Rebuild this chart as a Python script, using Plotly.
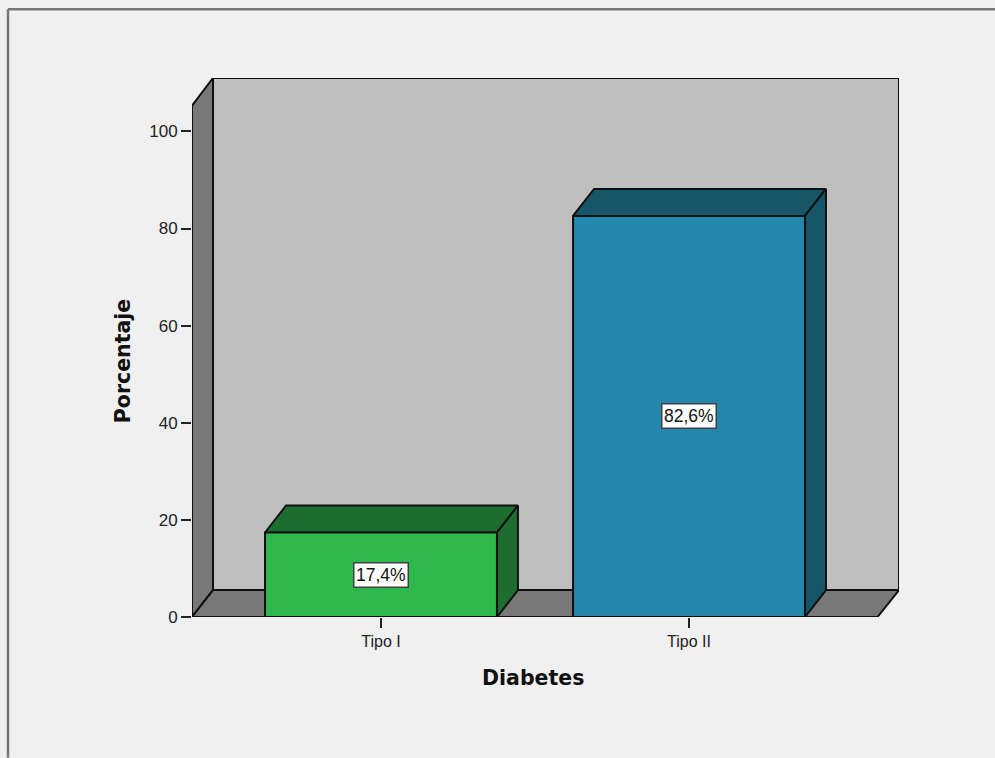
import plotly.graph_objects as go

categories = ["Tipo I", "Tipo II"]
percentages = [17.4, 82.6]
percent_labels = ["17,4%", "82,6%"]
y_ticks = [0, 20, 40, 60, 80, 100]
front_colors = ["#2fb84b", "#2488ad"]
shade_colors = ["#1d6e2e", "#165668"]

BG = "#f0f0f0"
WALL = "#bfbfbf"
SIDE = "#787878"

# Axis geometry and the oblique depth of the drawing, in data units
X_MIN, X_FRONT_MAX, X_MAX = -0.6136, 1.612, 1.6818
Y_TOP = 111.0
FRONT_TOP = 105.3
DX, DY = 0.0682, 5.55
BAR_W = 0.753


def face(xs, ys, color):
    return go.Scatter(
        x=xs + xs[:1], y=ys + ys[:1], mode="lines", fill="toself",
        fillcolor=color, line=dict(color="#101010", width=2),
        hoverinfo="skip", showlegend=False, cliponaxis=False,
    )


fig = go.Figure()

# Room: back wall, left wall, floor
fig.add_trace(face([X_MIN + DX, X_MAX, X_MAX, X_MIN + DX], [DY, DY, Y_TOP, Y_TOP], WALL))
fig.add_trace(face([X_MIN, X_MIN + DX, X_MIN + DX, X_MIN], [0, DY, Y_TOP, FRONT_TOP], SIDE))
fig.add_trace(face([X_MIN, X_FRONT_MAX, X_MAX, X_MIN + DX], [0, 0, DY, DY], SIDE))

# Bars: top, side and front faces
for i, v in enumerate(percentages):
    x0, x1 = i - BAR_W / 2, i + BAR_W / 2
    fig.add_trace(face([x0, x1, x1 + DX, x0 + DX], [v, v, v + DY, v + DY], shade_colors[i]))
    fig.add_trace(face([x1, x1 + DX, x1 + DX, x1], [0, DY, v + DY, v], shade_colors[i]))
    fig.add_trace(face([x0, x1, x1, x0], [0, 0, v, v], front_colors[i]))
    fig.add_annotation(
        x=i, y=v / 2, text=percent_labels[i], showarrow=False,
        font=dict(family="Liberation Sans", size=17.5, color="#111111"),
        bgcolor="#ffffff", bordercolor="#404040", borderwidth=1.5, borderpad=1.5,
    )

# Axis titles
fig.add_annotation(
    x=0.4935, yref="paper", y=-0.113, text="<b>Diabetes</b>", showarrow=False,
    xanchor="center", yanchor="middle",
    font=dict(family="DejaVu Sans", size=20.5, color="#111111"),
)
fig.add_annotation(
    xref="paper", x=-0.0975, y=52.7, text="<b>Porcentaje</b>", textangle=-90, showarrow=False,
    xanchor="center", yanchor="middle",
    font=dict(family="DejaVu Sans", size=20.5, color="#111111"),
)

# Window-style frame along the top and left edges
for x0, y0, x1, y1 in [(8, 8, 995, 8), (8, 8, 8, 758)]:
    fig.add_shape(
        type="line", xref="paper", yref="paper",
        x0=(x0 - 192) / 707, x1=(x1 - 192) / 707,
        y0=(617 - y0) / 540, y1=(617 - y1) / 540,
        line=dict(color="#777777", width=2.5),
    )

fig.update_layout(
    width=995, height=758, autosize=False,
    margin=dict(l=192, r=96, t=77.5, b=140.5, pad=0),
    paper_bgcolor=BG, plot_bgcolor=BG, showlegend=False,
    xaxis=dict(
        range=[X_MIN, X_MAX], tickvals=[0, 1], ticktext=categories,
        showgrid=False, zeroline=False, showline=False,
        ticks="outside", ticklen=10, tickwidth=1.5, tickcolor="#222222",
        tickfont=dict(family="Liberation Sans", size=16, color="#222222"),
    ),
    yaxis=dict(
        range=[0, Y_TOP], tickvals=y_ticks,
        showgrid=False, zeroline=False, showline=False,
        ticks="outside", ticklen=10, tickwidth=1.5, tickcolor="#222222",
        tickfont=dict(family="Liberation Sans", size=17, color="#222222"),
    ),
)

fig.write_html("out.html")
